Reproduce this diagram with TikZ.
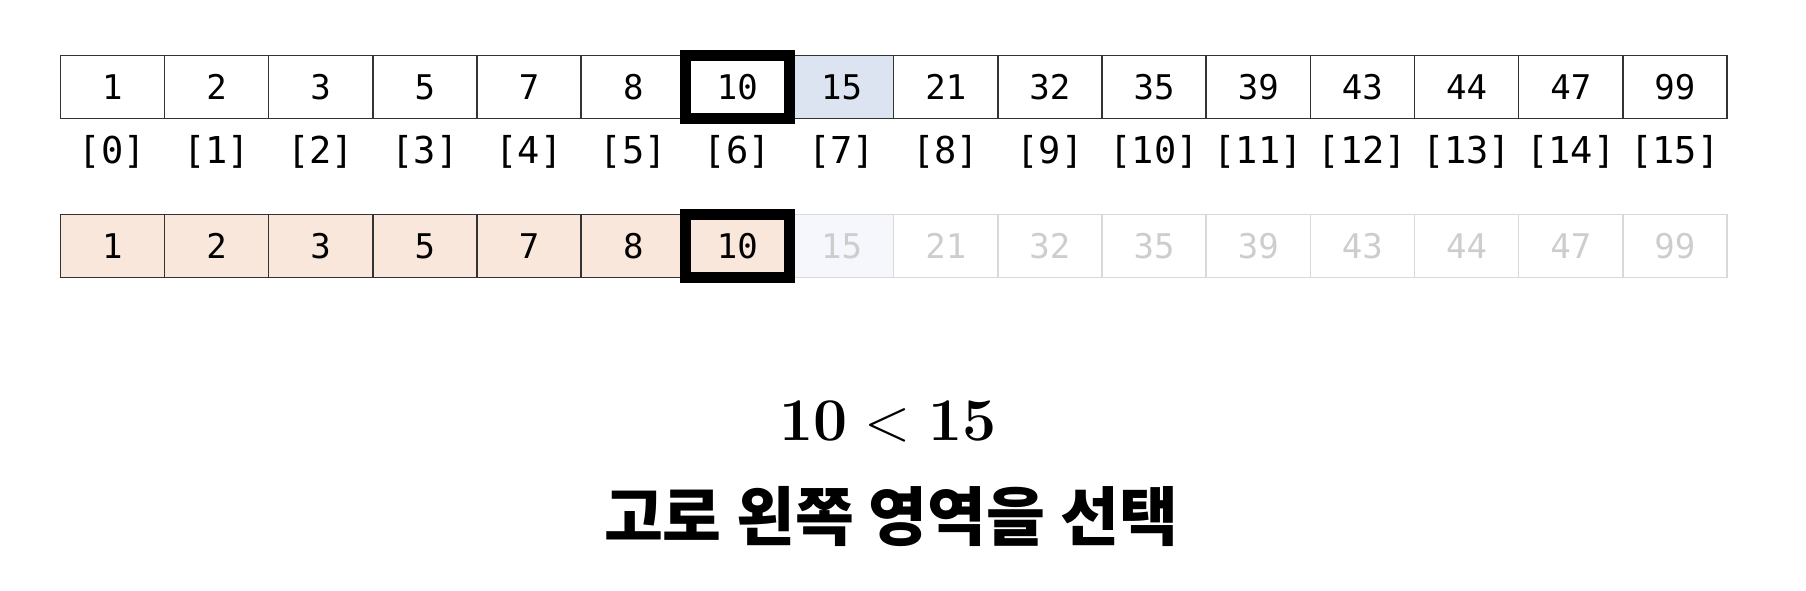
\documentclass[tikz,border=0pt]{standalone}
\usepackage{amsmath,amssymb}
\usepackage{fontspec}
\setmonofont{DejaVu Sans Mono}
\newfontfamily\krfont{Noto Sans CJK KR}
\usepackage{tikz}
\usetikzlibrary{positioning}
\usepackage{xcolor}
\definecolor{cellline}{HTML}{333333}
\definecolor{pickblue}{HTML}{DCE3F1}
\definecolor{keptfill}{HTML}{F9E7DB}
\definecolor{paleblue}{HTML}{F6F7FC}
\definecolor{fadeline}{HTML}{D9D9D9}
\definecolor{fadetext}{HTML}{CDCDCD}

\tikzset{
  cell/.style={draw=cellline, line width=0.8pt, outer sep=0pt, inner sep=0pt,
    minimum width=52.08pt, minimum height=31.5pt,
    font=\ttfamily\fontsize{17}{20}\selectfont, text height=12.4pt, text depth=0pt},
  hitcell/.style={cell, fill=pickblue},
  keptcell/.style={cell, fill=keptfill},
  dropfirst/.style={cell, draw=fadeline, fill=paleblue, text=fadetext},
  dropcell/.style={cell, draw=fadeline, text=fadetext},
  idxlabel/.style={inner sep=0pt, anchor=base, font=\ttfamily\fontsize{18.5}{22}\selectfont},
  pickbox/.style={draw=black, line width=5.75pt},
}

\begin{document}
\begin{tikzpicture}[x=0.5pt, y=-0.5pt]
\useasboundingbox (0,0) rectangle (1806,590);
% upper array with index labels
\foreach \v [count=\i from 0] in {1,2,3,5,7,8,10,15,21,32,35,39,43,44,47,99} {
  \ifnum\i=7 \def\cellstyle{hitcell}\else\def\cellstyle{cell}\fi
  \node[\cellstyle] (top\i) at ({60.3+104.17*(\i+0.5)}, 87) {\v};
  \node[idxlabel] (idx\i) at ({60.3+104.17*(\i+0.5)}, 163) {[\i]};
}
% lower array: left part kept
\foreach \v [count=\i from 0] in {1,2,3,5,7,8,10,15,21,32,35,39,43,44,47,99} {
  \ifnum\i<7 \def\cellstyle{keptcell}\else
    \ifnum\i=7 \def\cellstyle{dropfirst}\else\def\cellstyle{dropcell}\fi\fi
  \node[\cellstyle] (bot\i) at ({60.3+104.17*(\i+0.5)}, 246) {\v};
}
\draw[pickbox] (top6.north west) rectangle (top6.south east);
\draw[pickbox] (bot6.north west) rectangle (bot6.south east);
% comparison and result
\node[anchor=base, font=\fontsize{30.3}{36}\selectfont] (cmp) at (888,440)
  {\textbf{10}\hspace{0.28em}<\hspace{0.28em}\textbf{15}};
\node[font=\krfont\bfseries\fontsize{32}{38}\selectfont] (pick) at (891,517) {고로 왼쪽 영역을 선택};
\end{tikzpicture}
\end{document}
